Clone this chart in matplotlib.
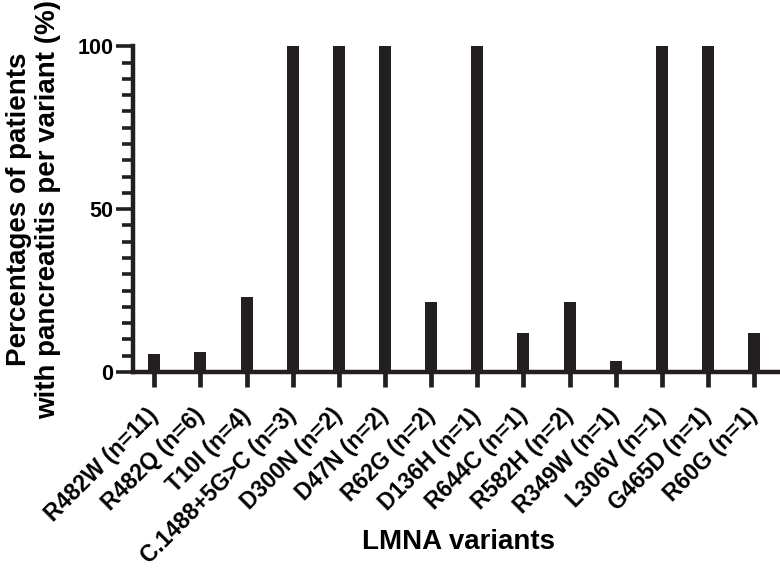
import numpy as np
import matplotlib.pyplot as plt
from matplotlib.ticker import MultipleLocator

plt.rcParams['font.family'] = ['Liberation Sans', 'DejaVu Sans']
plt.rcParams['font.weight'] = 'bold'

variants = ['R482W (n=11)', 'R482Q (n=6)', 'T10I (n=4)', 'C.1488+5G>C (n=3)',
            'D300N (n=2)', 'D47N (n=2)', 'R62G (n=2)', 'D136H (n=1)',
            'R644C (n=1)', 'R582H (n=2)', 'R349W (n=1)', 'L306V (n=1)',
            'G465D (n=1)', 'R60G (n=1)']
percent = [5.5, 6.0, 23.0, 100, 100, 100, 21.5, 100, 12.0, 21.5, 3.5, 100, 100, 12.0]

ink = '#231f20'

fig = plt.figure(figsize=(7.8, 5.78), dpi=100)
ax = fig.add_axes([0.1705, 0.3564, 0.8295, 0.5636])

x = np.arange(len(variants))
ax.bar(x, percent, width=0.26, color=ink, clip_on=False)

ax.set_xlim(-0.46, 13.56)
ax.set_ylim(0, 100)
ax.set_yticks([0, 50, 100])
ax.yaxis.set_minor_locator(MultipleLocator(5))
ax.set_xticks(x)
ax.set_xticklabels(variants, rotation=45, ha='right', va='center',
                   rotation_mode='anchor', fontsize=16.5, fontweight='bold')
for lab in ax.get_yticklabels():
    lab.set_fontsize(15.5)
    lab.set_fontweight('bold')

for s in ['top', 'right']:
    ax.spines[s].set_visible(False)
for s in ['left', 'bottom']:
    ax.spines[s].set_linewidth(3.2)
    ax.spines[s].set_color(ink)
ax.tick_params(axis='y', which='major', length=12, width=2.6, color=ink, pad=2)
ax.tick_params(axis='y', which='minor', length=8, width=2.6, color=ink)
ax.tick_params(axis='x', which='major', length=11, width=3.4, color=ink, pad=18)

ax.set_ylabel('Percentages of patients\nwith pancreatitis per variant (%)',
              fontsize=20, fontweight='bold', labelpad=12, linespacing=1.15)
fig.text(458 / 780, 1 - 542 / 578, 'LMNA variants', ha='center', va='center',
         fontsize=20, fontweight='bold')

fig.savefig('out.png', dpi=100)
